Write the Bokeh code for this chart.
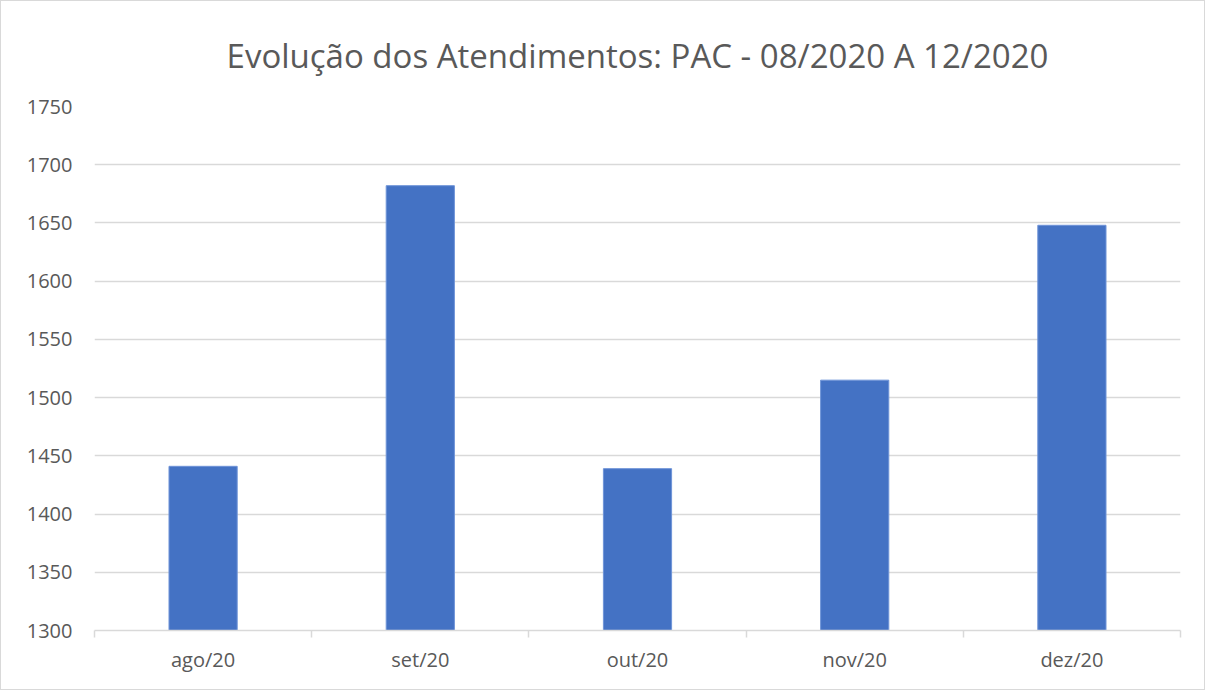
from bokeh.plotting import figure
from bokeh.models import Range1d, FixedTicker, ColumnDataSource
from bokeh.embed import file_html
from bokeh.resources import INLINE

# Data
months = ["ago/20", "set/20", "out/20", "nov/20", "dez/20"]
atendimentos = [1441, 1682, 1439, 1515, 1648]
y_ticks = [1300, 1350, 1400, 1450, 1500, 1550, 1600, 1650, 1700, 1750]
title_text = "Evolução dos Atendimentos: PAC - 08/2020 A 12/2020"

centers = [i + 0.5 for i in range(len(months))]
bounds = [float(i) for i in range(len(months) + 1)]

src = ColumnDataSource(dict(x=centers, top=atendimentos, month=months))

p = figure(
    width=1205, height=690,
    x_range=Range1d(0, len(months)),
    y_range=Range1d(y_ticks[0], y_ticks[-1]),
    output_backend="svg", toolbar_location=None,
    min_border_left=93, min_border_right=26,
    min_border_top=105, min_border_bottom=61,
    title=title_text,
)

p.title.align = "center"
p.title.vertical_align = "top"
p.title.text_font = "Open Sans"
p.title.text_font_size = "33px"
p.title.text_font_style = "normal"
p.title.text_color = "#595959"
p.title.standoff = 54

p.vbar(x="x", top="top", bottom=y_ticks[0], width=0.314, source=src,
       fill_color="#4472C4", line_color="#6F94D8", line_width=1)

p.outline_line_color = None
p.background_fill_color = "white"
p.border_fill_color = "white"

# y axis
p.yaxis.ticker = FixedTicker(ticks=y_ticks)
p.yaxis.axis_line_color = None
p.yaxis.major_tick_line_color = None
p.yaxis.major_tick_out = 0
p.yaxis.major_tick_in = 0
p.yaxis.minor_tick_line_color = None
p.yaxis.minor_tick_out = 0
p.yaxis.major_label_text_font = "Open Sans"
p.yaxis.major_label_text_font_size = "20px"
p.yaxis.major_label_text_color = "#595959"
p.yaxis.major_label_standoff = 22

# x axis
p.xaxis.ticker = FixedTicker(ticks=centers, minor_ticks=bounds)
p.xaxis.major_label_overrides = {c: m for c, m in zip(centers, months)}
p.xaxis.axis_line_color = "#D9D9D9"
p.xaxis.axis_line_width = 1.5
p.xaxis.major_tick_line_color = None
p.xaxis.major_tick_out = 0
p.xaxis.major_tick_in = 0
p.xaxis.minor_tick_line_color = "#D9D9D9"
p.xaxis.minor_tick_line_width = 1.5
p.xaxis.minor_tick_in = 0
p.xaxis.minor_tick_out = 7
p.xaxis.major_label_text_font = "Open Sans"
p.xaxis.major_label_text_font_size = "20px"
p.xaxis.major_label_text_color = "#595959"
p.xaxis.major_label_standoff = 8

p.xgrid.grid_line_color = None
p.ygrid.ticker = FixedTicker(ticks=y_ticks)
p.ygrid.grid_line_color = "#D9D9D9"
p.ygrid.grid_line_width = 1.5

p.styles = {"border": "1px solid #D9D9D9", "box-sizing": "border-box"}

open("out.html", "w").write(file_html(p, INLINE))
